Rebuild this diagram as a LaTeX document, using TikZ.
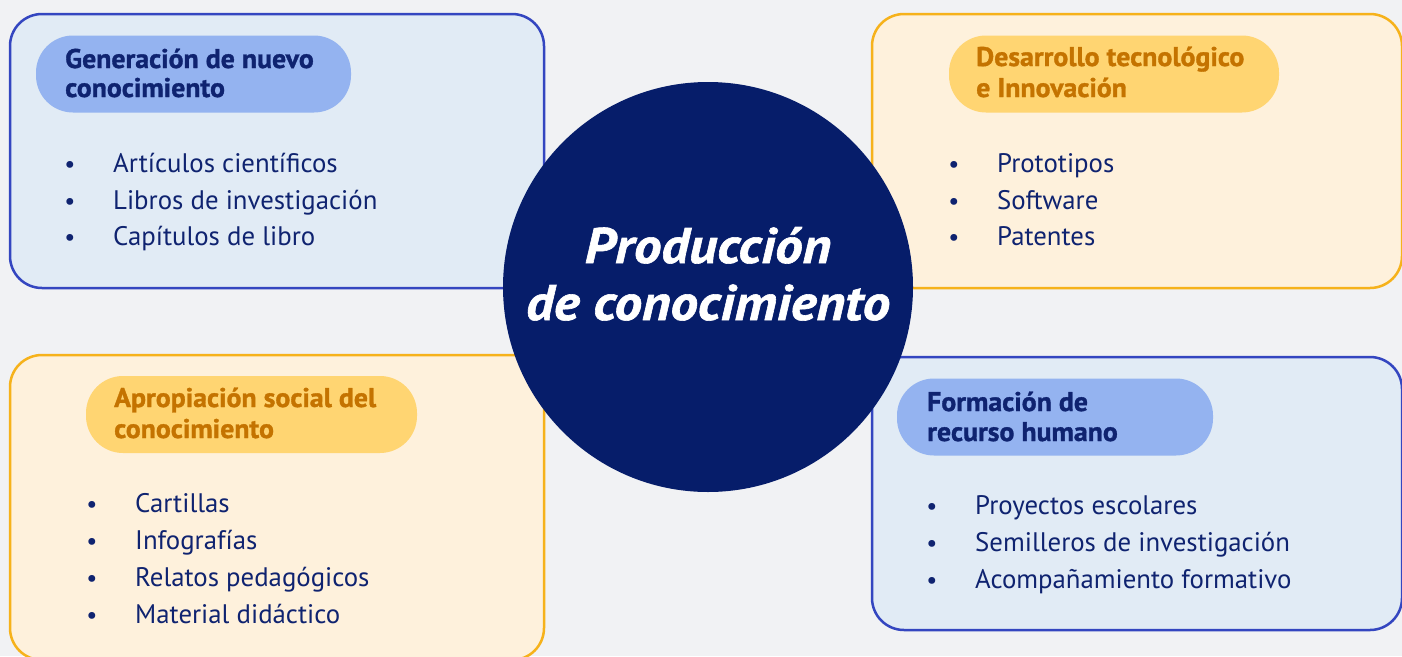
\documentclass[tikz,border=0pt]{standalone}
\usepackage{fontspec}
\setmainfont{PT Sans}
\newfontfamily\circfont[FakeStretch=1.1,FakeBold=1.2]{PT Sans}
\newfontfamily\headfont[FakeStretch=1.03,FakeBold=1.2]{PT Sans}
\definecolor{bgc}{HTML}{F1F2F4}
\definecolor{bluefill}{HTML}{E1EBF5}
\definecolor{blueline}{HTML}{3446C0}
\definecolor{yelfill}{HTML}{FEF1DC}
\definecolor{yelline}{HTML}{F6B21B}
\definecolor{pillblue}{HTML}{94B3F0}
\definecolor{pillyel}{HTML}{FFD572}
\definecolor{navytext}{HTML}{0F2370}
\definecolor{orangetext}{HTML}{C47300}
\definecolor{circlenavy}{HTML}{061D6A}
\tikzset{
  panel/.style={draw, line width=2.5pt, rounded corners=32pt, inner sep=0pt},
  bluepanel/.style={panel, draw=blueline, fill=bluefill},
  yelpanel/.style={panel, draw=yelline, fill=yelfill},
  pill/.style={rounded corners=37pt, inner sep=0pt, minimum height=77pt},
  headtext/.style={anchor=base west, inner sep=0pt, font=\headfont\fontsize{27}{30}\selectfont\bfseries},
  item/.style={anchor=base west, inner sep=0pt, text=navytext, font=\fontsize{26.8}{30}\selectfont},
  bul/.style={anchor=base, inner sep=0pt, text=navytext, font=\fontsize{24.5}{30}\selectfont},
  bigtext/.style={anchor=base, inner sep=0pt, text=white, font=\circfont\fontsize{50}{55}\selectfont\bfseries\itshape}
}
\begin{document}
\begin{tikzpicture}[x=1pt,y=-1pt]
\useasboundingbox (0,0) rectangle (1402,656);
\clip (0,0) rectangle (1402,656);
\fill[bgc] (0,0) rectangle (1402,656);

% panels
\node[bluepanel, minimum width=534pt, minimum height=274pt] (b1) at (277,151) {};
\node[yelpanel, minimum width=530pt, minimum height=274pt] (b2) at (1137,151) {};
\node[yelpanel, minimum width=534pt, minimum height=305pt] (b3) at (277,507.5) {};
\node[bluepanel, minimum width=530pt, minimum height=273pt] (b4) at (1137,493.5) {};

% pills
\node[pill, fill=pillblue, minimum width=315pt] (p1) at (193.5,74) {};
\node[pill, fill=pillyel, minimum width=330pt] (p2) at (1114,74) {};
\node[pill, fill=pillyel, minimum width=331pt] (p3) at (251.5,414.5) {};
\node[pill, fill=pillblue, minimum width=316pt] (p4) at (1055,417) {};

% headings
\node[headtext, text=navytext] (h1a) at (65,68) {Generación de nuevo};
\node[headtext, text=navytext] (h1b) at (65,97) {conocimiento};
\node[headtext, text=orangetext] (h2a) at (976,66) {Desarrollo tecnológico};
\node[headtext, text=orangetext] (h2b) at (976,97) {e Innovación};
\node[headtext, text=orangetext] (h3a) at (114,407) {Apropiación social del};
\node[headtext, text=orangetext] (h3b) at (114,438) {conocimiento};
\node[headtext, text=navytext] (h4a) at (927,411) {Formación de};
\node[headtext, text=navytext] (h4b) at (927,441) {recurso humano};

% items box 1
\foreach \t/\y [count=\i] in {Artículos científicos/172, Libros de investigación/209, Capítulos de libro/245}{
  \node[bul] (b1d\i) at (70,\y) {•};
  \node[item] (b1i\i) at (113,\y) {\t};
}
% items box 2
\foreach \t/\y [count=\i] in {Prototipos/172, Software/209, Patentes/245}{
  \node[bul] (b2d\i) at (954,\y) {•};
  \node[item] (b2i\i) at (997,\y) {\t};
}
% items box 3
\foreach \t/\y [count=\i] in {Cartillas/512, Infografías/549, Relatos pedagógicos/586, Material didáctico/623}{
  \node[bul] (b3d\i) at (92,\y) {•};
  \node[item] (b3i\i) at (135,\y) {\t};
}
% items box 4
\foreach \t/\y [count=\i] in {Proyectos escolares/514, Semilleros de investigación/551, Acompañamiento formativo/588}{
  \node[bul] (b4d\i) at (932,\y) {•};
  \node[item] (b4i\i) at (975,\y) {\t};
}

% center circle
\node[circle, fill=circlenavy, minimum size=410pt, inner sep=0pt] (c) at (708,287) {};
\node[bigtext] (ct1) at (708,263) {Producción};
\node[bigtext] (ct2) at (708,320) {de conocimiento};
\end{tikzpicture}
\end{document}
